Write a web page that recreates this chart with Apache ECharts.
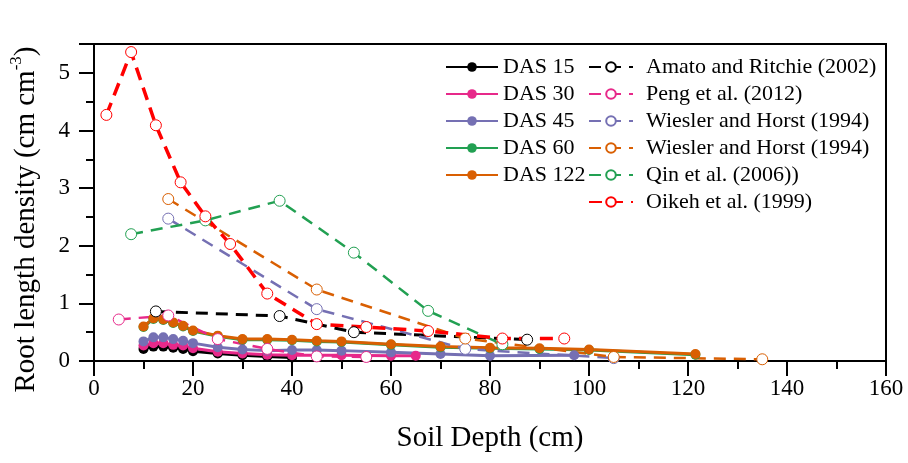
<!DOCTYPE html>
<html>
<head>
<meta charset="utf-8">
<script src="https://cdn.jsdelivr.net/npm/echarts@6/dist/echarts.min.js"></script>
<style>
html,body{margin:0;padding:0;background:#fff;}
#chart{width:908px;height:463px;}
</style>
</head>
<body>
<div id="chart"></div>
<script>
// ---- data ----
const xTicks = [0, 20, 40, 60, 80, 100, 120, 140, 160];
const yTicks = [0, 1, 2, 3, 4, 5];

const das15X = [10, 12, 14, 16, 18, 20, 25, 30, 35, 40];
const das15Y = [0.21, 0.25, 0.25, 0.23, 0.21, 0.17, 0.13, 0.10, 0.08, 0.06];

const das30X = [10, 12, 14, 16, 18, 20, 25, 30, 35, 40, 45, 50, 60, 65];
const das30Y = [0.27, 0.31, 0.31, 0.28, 0.27, 0.22, 0.16, 0.13, 0.11, 0.10, 0.10, 0.10, 0.09, 0.09];

const das45X = [10, 12, 14, 16, 18, 20, 25, 30, 35, 40, 45, 50, 60, 70, 80, 97];
const das45Y = [0.34, 0.41, 0.41, 0.38, 0.35, 0.31, 0.24, 0.20, 0.18, 0.19, 0.19, 0.18, 0.15, 0.12, 0.09, 0.10];

const das60X = [10, 12, 14, 16, 18, 20, 25, 30, 35, 40, 45, 50, 60, 70, 80, 90, 100, 121.5];
const das60Y = [0.59, 0.73, 0.71, 0.66, 0.60, 0.52, 0.43, 0.37, 0.37, 0.36, 0.34, 0.33, 0.28, 0.24, 0.22, 0.21, 0.19, 0.11];

const das122X = [10, 12, 14, 16, 18, 20, 25, 30, 35, 40, 45, 50, 60, 70, 80, 90, 100, 121.5];
const das122Y = [0.60, 0.74, 0.72, 0.67, 0.61, 0.53, 0.44, 0.38, 0.38, 0.37, 0.35, 0.34, 0.29, 0.25, 0.23, 0.22, 0.20, 0.12];

const amatoX = [12.5, 37.5, 52.5, 87.5];
const amatoY = [0.86, 0.78, 0.50, 0.37];

const pengX = [5, 15, 25, 35, 45, 55];
const pengY = [0.72, 0.79, 0.38, 0.21, 0.08, 0.07];

const wieslerAX = [15, 45, 75, 105];
const wieslerAY = [2.47, 0.90, 0.21, 0.05];

const wieslerBX = [15, 45, 75, 105, 135];
const wieslerBY = [2.81, 1.24, 0.39, 0.07, 0.03];

const qinX = [7.5, 22.5, 37.5, 52.5, 67.5, 82.5];
const qinY = [2.20, 2.44, 2.78, 1.88, 0.87, 0.29];

const oikehX = [2.5, 7.5, 12.5, 17.5, 22.5, 27.5, 35, 45, 55, 67.5, 82.5, 95];
const oikehY = [4.27, 5.36, 4.09, 3.10, 2.51, 2.03, 1.17, 0.64, 0.59, 0.52, 0.39, 0.39];

const dasNames = ['DAS 15', 'DAS 30', 'DAS 45', 'DAS 60', 'DAS 122'];
const litNames = ['Amato and Ritchie (2002)', 'Peng et al. (2012)', 'Wiesler and Horst (1994)',
                  'Wiesler and Horst (1994) ', 'Qin et al. (2006))', 'Oikeh et al. (1999)'];

const cBlack = '#000000', cPink = '#e7298a', cPurple = '#7570b3', cGreen = '#22a052', cOrange = '#d95f02', cRed = '#ff0000';

// ---- build ----
const FONT = '"Liberation Serif", "Times New Roman", serif';
function zip(xs, ys) { return xs.map((x, i) => [x, ys[i]]); }

function solid(name, xs, ys, color) {
  return {
    type: 'line', name, data: zip(xs, ys), color,
    symbol: 'circle', symbolSize: 10, showSymbol: true,
    lineStyle: { color, width: 3 },
    itemStyle: { color },
    emphasis: { disabled: true }
  };
}
function dashed(name, xs, ys, color, width, dash) {
  return {
    type: 'line', name, data: zip(xs, ys), color,
    symbol: 'circle', symbolSize: 11, showSymbol: true,
    lineStyle: { color, width, type: dash },
    itemStyle: { color: '#ffffff', borderColor: color, borderWidth: 1 },
    emphasis: { disabled: true }
  };
}

const series = [
  solid(dasNames[0], das15X, das15Y, cBlack),
  solid(dasNames[1], das30X, das30Y, cPink),
  solid(dasNames[2], das45X, das45Y, cPurple),
  solid(dasNames[3], das60X, das60Y, cGreen),
  solid(dasNames[4], das122X, das122Y, cOrange),
  dashed(litNames[0], amatoX, amatoY, cBlack, 3, [12, 8]),
  dashed(litNames[1], pengX, pengY, cPink, 2.5, [12, 8]),
  dashed(litNames[2], wieslerAX, wieslerAY, cPurple, 2.5, [12, 8]),
  dashed(litNames[3], wieslerBX, wieslerBY, cOrange, 2.5, [12, 8]),
  dashed(litNames[4], qinX, qinY, cGreen, 2.5, [12, 8]),
  dashed(litNames[5], oikehX, oikehY, cRed, 3.5, [13, 8])
];

const chart = echarts.init(document.getElementById('chart'), null, { renderer: 'canvas' });
chart.setOption({
  animation: false,
  backgroundColor: '#ffffff',
  textStyle: { fontFamily: FONT },
  grid: { left: 94, right: 22, top: 44, bottom: 102, show: true, borderColor: '#000', borderWidth: 2, backgroundColor: 'transparent' },
  legend: [
    {
      data: dasNames, orient: 'vertical', left: 440, top: 51,
      itemWidth: 52, itemHeight: 12, itemGap: 5,
      selectedMode: false,
      textStyle: { fontFamily: FONT, fontSize: 22, color: '#000', lineHeight: 22 }
    },
    {
      data: litNames, orient: 'vertical', left: 583, top: 51,
      itemWidth: 44, itemHeight: 12, itemGap: 5,
      selectedMode: false,
      textStyle: { fontFamily: FONT, fontSize: 22, color: '#000', lineHeight: 22, padding: [0, 0, 0, 8] }
    }
  ],
  xAxis: {
    type: 'value', min: xTicks[0], max: xTicks[xTicks.length - 1], interval: 20,
    name: 'Soil Depth (cm)', nameLocation: 'middle', nameGap: 63,
    nameTextStyle: { fontFamily: FONT, fontSize: 29, color: '#000' },
    axisLine: { show: true, onZero: false, lineStyle: { color: '#000', width: 2 } },
    axisTick: { show: true, inside: false, length: 15, lineStyle: { color: '#000', width: 2 } },
    minorTick: { show: true, splitNumber: 2, length: 8, lineStyle: { color: '#000', width: 2 } },
    splitLine: { show: false },
    axisLabel: { fontFamily: FONT, fontSize: 23, color: '#000', margin: 16 }
  },
  yAxis: {
    type: 'value', min: yTicks[0], max: 5.5, interval: 1,
    name: '{a|Root length density (cm cm}{s|-3}{a|)}', nameLocation: 'middle', nameGap: 50,
    nameTextStyle: {
      fontFamily: FONT, fontSize: 29, color: '#000', padding: [0, 34, 0, 0],
      rich: {
        a: { fontFamily: FONT, fontSize: 29, color: '#000' },
        s: { fontFamily: FONT, fontSize: 17, color: '#000', verticalAlign: 'top', lineHeight: 36 }
      }
    },
    axisLine: { show: true, onZero: false, lineStyle: { color: '#000', width: 2 } },
    axisTick: { show: true, inside: false, length: 15, lineStyle: { color: '#000', width: 2 } },
    minorTick: { show: true, splitNumber: 2, length: 8, lineStyle: { color: '#000', width: 2 } },
    splitLine: { show: false },
    axisLabel: { fontFamily: FONT, fontSize: 23, color: '#000', margin: 24, showMaxLabel: false }
  },
  series
});
</script>
</body>
</html>
